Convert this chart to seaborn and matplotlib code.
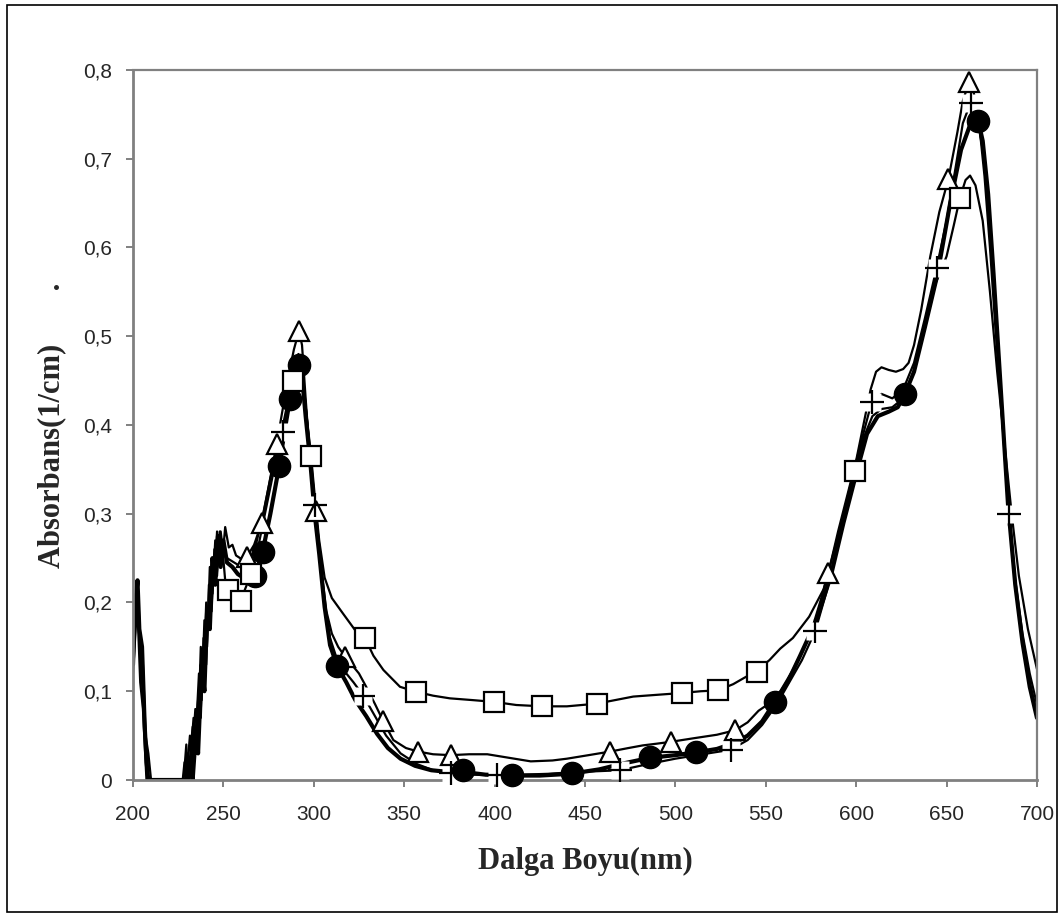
import matplotlib
matplotlib.use("Agg")
import matplotlib.pyplot as plt
from matplotlib.patches import Rectangle
import seaborn as sns

# ---- spectra (wavelength nm, absorbance 1/cm) ----
wl_circle = [200, 201, 202.5, 203.5, 205, 206.5, 208, 230, 232, 233,
             235, 236, 238, 239.5, 241, 242.5, 244, 245.5, 247, 248.5,
             250, 252, 255, 258, 261, 264, 267.5, 271.7, 276, 280.9,
             284, 286.8, 289.5, 291.8, 293.5, 295.5, 298, 300.5, 303, 306,
             309, 313, 318, 323, 329, 335, 341, 348, 356, 365,
             375, 383, 395, 410, 425, 442, 458, 472, 486, 500,
             511, 523, 533, 540, 548, 555, 562, 569, 578, 586,
             593, 600, 606, 612, 618, 623, 627, 632, 638, 645,
             652, 658, 663, 667.5, 670, 673, 676, 680, 684, 688,
             692, 696, 700]
ab_circle = [0.13, 0.19, 0.225, 0.17, 0.15, 0.06, 0.0, 0.0, 0.02, 0.0,
             0.06, 0.03, 0.13, 0.10, 0.19, 0.17, 0.25, 0.22, 0.275, 0.24,
             0.27, 0.245, 0.24, 0.232, 0.228, 0.226, 0.230, 0.257, 0.30, 0.354,
             0.395, 0.429, 0.455, 0.468, 0.455, 0.41, 0.36, 0.30, 0.255, 0.195,
             0.152, 0.128, 0.11, 0.09, 0.072, 0.052, 0.036, 0.024, 0.016, 0.011,
             0.009, 0.009, 0.006, 0.005, 0.005, 0.007, 0.012, 0.019, 0.025, 0.028,
             0.031, 0.035, 0.042, 0.05, 0.066, 0.088, 0.11, 0.14, 0.18, 0.23,
             0.29, 0.345, 0.39, 0.41, 0.415, 0.42, 0.435, 0.46, 0.51, 0.57,
             0.65, 0.71, 0.738, 0.743, 0.72, 0.66, 0.57, 0.44, 0.31, 0.22,
             0.155, 0.105, 0.07]

wl_tri = [200, 201.5, 203, 204.5, 206, 207.5, 209, 228, 229.5, 230.5,
          233, 234, 236, 237.5, 239, 240.5, 242, 243.5, 245, 246.5,
          248, 249.5, 251, 253, 255, 257, 260, 262.9, 267, 271.2,
          275, 279.5, 283, 286, 289, 291.8, 293.5, 295.5, 298, 301.2,
          304, 307, 310, 313.5, 317.3, 321, 325, 329, 334, 338.5,
          344, 351, 357.8, 366, 375.7, 386, 396, 408, 420, 432,
          440, 452, 463.8, 474, 482, 490, 497.4, 510, 523, 533,
          540, 546, 551, 558, 565, 571, 576, 580, 584.6, 590,
          595, 600, 604, 608, 611, 614, 618, 622, 626, 629,
          632, 636, 641, 646, 651, 656, 659, 662.4, 665, 668,
          671, 674, 677, 680, 684, 688, 692, 696, 700]
ab_tri = [0.17, 0.21, 0.19, 0.12, 0.09, 0.03, 0.0, 0.0, 0.04, 0.0,
          0.06, 0.03, 0.09, 0.07, 0.16, 0.13, 0.22, 0.19, 0.26, 0.23,
          0.28, 0.25, 0.285, 0.262, 0.265, 0.253, 0.249, 0.251, 0.265, 0.29,
          0.33, 0.379, 0.42, 0.455, 0.485, 0.506, 0.49, 0.43, 0.36, 0.303,
          0.24, 0.19, 0.165, 0.15, 0.139, 0.13, 0.12, 0.105, 0.085, 0.066,
          0.045, 0.036, 0.032, 0.029, 0.028, 0.029, 0.029, 0.025, 0.021, 0.022,
          0.024, 0.028, 0.032, 0.036, 0.039, 0.041, 0.043, 0.047, 0.051, 0.056,
          0.065, 0.078, 0.085, 0.10, 0.124, 0.148, 0.173, 0.20, 0.233, 0.28,
          0.32, 0.36, 0.40, 0.44, 0.46, 0.465, 0.462, 0.46, 0.463, 0.47,
          0.49, 0.53, 0.59, 0.64, 0.677, 0.73, 0.765, 0.786, 0.775, 0.74,
          0.68, 0.60, 0.51, 0.43, 0.31, 0.22, 0.16, 0.11, 0.075]

wl_sq = [200, 201, 202.5, 204, 205.5, 207, 208, 227.5, 228.5, 229.5,
         231.5, 232.5, 234.5, 236, 237.5, 239, 240.5, 242, 243.5, 245,
         246.5, 248, 249.5, 251, 252.7, 255, 259.6, 262, 265.3, 269,
         273, 277, 281, 285, 288.7, 291, 293, 295, 298.5, 301,
         303, 306, 310, 316, 322.8, 328.3, 333, 338.5, 347.7, 356.5,
         366, 375.3, 388, 399.8, 412, 426.4, 440, 456.5, 476.7, 490,
         503.5, 514, 523.6, 532, 538, 545, 552, 558, 565, 574,
         582, 588, 594, 599.3, 604, 609, 614, 620, 626, 632,
         638, 644, 650, 654, 657.4, 660.5, 663, 666, 670, 674,
         678, 682, 686, 690, 695, 700]
ab_sq = [0.15, 0.20, 0.19, 0.11, 0.08, 0.02, 0.0, 0.0, 0.02, 0.0,
         0.05, 0.02, 0.08, 0.05, 0.15, 0.11, 0.20, 0.17, 0.25, 0.22,
         0.28, 0.24, 0.26, 0.225, 0.214, 0.205, 0.202, 0.215, 0.232, 0.26,
         0.30, 0.34, 0.38, 0.42, 0.449, 0.47, 0.465, 0.43, 0.365, 0.31,
         0.27, 0.228, 0.205, 0.188, 0.169, 0.16, 0.14, 0.124, 0.105, 0.0995,
         0.095, 0.092, 0.09, 0.088, 0.0845, 0.083, 0.083, 0.086, 0.094, 0.096,
         0.098, 0.10, 0.101, 0.108, 0.115, 0.123, 0.135, 0.148, 0.16, 0.184,
         0.215, 0.26, 0.305, 0.348, 0.385, 0.41, 0.418, 0.42, 0.43, 0.46,
         0.51, 0.56, 0.59, 0.625, 0.656, 0.676, 0.681, 0.67, 0.63, 0.55,
         0.46, 0.38, 0.30, 0.23, 0.17, 0.125]

wl_plus = [200, 201.5, 203, 204, 205.5, 207, 208.5, 210, 229, 230,
           231, 233.5, 234.5, 236.5, 238, 239.5, 241, 242.5, 244, 245.5,
           247, 248.5, 250, 252, 256, 260, 264, 268, 272, 276,
           279.5, 283.1, 286, 289, 291.5, 293.5, 296, 298.5, 300.7, 303,
           306, 309, 313, 318, 322, 327.4, 333, 340, 348, 357,
           366, 375.7, 388, 401.1, 415, 430, 445, 458, 469.4, 485,
           500, 515, 530.5, 540, 548, 556, 563, 570, 577.4, 584,
           590, 596, 602, 608.6, 614, 620, 626, 632, 638, 644.5,
           650, 655, 659, 663.3, 667, 670, 673, 676, 680, 684.7,
           688, 692, 696, 700]
ab_plus = [0.12, 0.17, 0.21, 0.14, 0.13, 0.05, 0.03, 0.0, 0.0, 0.03,
           0.0, 0.07, 0.04, 0.12, 0.09, 0.18, 0.15, 0.24, 0.21, 0.27,
           0.25, 0.28, 0.255, 0.25, 0.245, 0.24, 0.245, 0.265, 0.30, 0.34,
           0.37, 0.392, 0.43, 0.465, 0.48, 0.465, 0.41, 0.355, 0.31, 0.26,
           0.20, 0.16, 0.135, 0.12, 0.11, 0.095, 0.075, 0.05, 0.03, 0.018,
           0.011, 0.0075, 0.006, 0.0056, 0.006, 0.007, 0.009, 0.01, 0.011, 0.018,
           0.024, 0.029, 0.034, 0.045, 0.062, 0.085, 0.11, 0.135, 0.168, 0.215,
           0.27, 0.325, 0.375, 0.426, 0.435, 0.43, 0.44, 0.47, 0.52, 0.577,
           0.63, 0.69, 0.74, 0.763, 0.745, 0.71, 0.65, 0.56, 0.43, 0.30,
           0.225, 0.165, 0.12, 0.085]

# ---- sparse marker points on each curve ----
mk_circle_wl = [267.5, 271.7, 280.9, 286.8, 291.8, 313.1, 382.7, 409.5, 442.6, 486, 511.2, 555.1, 627, 667.5]
mk_circle_ab = [0.230, 0.257, 0.354, 0.429, 0.468, 0.128, 0.011, 0.0056, 0.0083, 0.026, 0.031, 0.088, 0.435, 0.743]

mk_tri_wl = [262.9, 271.2, 279.5, 291.8, 301.2, 317.3, 338.5, 357.8, 375.7, 463.8, 497.4, 533, 584.6, 651, 662.4]
mk_tri_ab = [0.251, 0.290, 0.379, 0.506, 0.303, 0.139, 0.066, 0.032, 0.028, 0.032, 0.043, 0.056, 0.233, 0.677, 0.786]

mk_sq_wl = [252.7, 259.6, 265.3, 288.7, 298.5, 328.3, 356.5, 399.8, 426.4, 456.5, 503.5, 523.6, 545, 599.3, 657.4]
mk_sq_ab = [0.214, 0.202, 0.232, 0.449, 0.365, 0.160, 0.0995, 0.088, 0.083, 0.086, 0.098, 0.101, 0.122, 0.348, 0.656]

mk_plus_wl = [283.1, 300.7, 327.4, 375.7, 401.1, 469.4, 530.5, 577.4, 608.6, 644.5, 663.3, 684.7]
mk_plus_ab = [0.392, 0.31, 0.095, 0.0075, 0.0056, 0.011, 0.034, 0.168, 0.426, 0.577, 0.763, 0.30]

x_ticks = [200, 250, 300, 350, 400, 450, 500, 550, 600, 650, 700]
y_ticks = [0, 0.1, 0.2, 0.3, 0.4, 0.5, 0.6, 0.7, 0.8]
y_tick_labels = ["0", "0,1", "0,2", "0,3", "0,4", "0,5", "0,6", "0,7", "0,8"]

sns.set_style("white")
plt.rcParams["font.family"] = ["Liberation Sans", "DejaVu Sans"]

fig = plt.figure(figsize=(10.63, 9.17), dpi=100)
ax = fig.add_axes([0.1251, 0.1494, 0.8504, 0.7743])

# lines
sns.lineplot(x=wl_circle, y=ab_circle, sort=False, estimator=None, color="black", lw=3.0, ax=ax, zorder=2)
sns.lineplot(x=wl_tri, y=ab_tri, sort=False, estimator=None, color="black", lw=1.6, ax=ax, zorder=2)
sns.lineplot(x=wl_sq, y=ab_sq, sort=False, estimator=None, color="black", lw=1.6, ax=ax, zorder=2)
sns.lineplot(x=wl_plus, y=ab_plus, sort=False, estimator=None, color="black", lw=1.6, ax=ax, zorder=2)

# markers (plus markers get a white backing like the excel original)
ax.plot(mk_plus_wl, mk_plus_ab, ls="none", marker="s", ms=13, mfc="white", mec="none", zorder=3, clip_on=False)
ax.plot(mk_tri_wl, mk_tri_ab, ls="none", marker="^", ms=15, mfc="white", mec="black", mew=1.6, zorder=4, clip_on=False)
ax.plot(mk_circle_wl, mk_circle_ab, ls="none", marker="o", ms=16, mfc="black", mec="black", zorder=5, clip_on=False)
ax.plot(mk_sq_wl, mk_sq_ab, ls="none", marker="s", ms=15, mfc="white", mec="black", mew=1.6, zorder=6, clip_on=False)
ax.plot(mk_plus_wl, mk_plus_ab, ls="none", marker="+", ms=17, mec="black", mew=1.6, zorder=7, clip_on=False)

ax.set_xlim(200, 700)
ax.set_ylim(0, 0.8)
ax.set_xticks(x_ticks)
ax.set_yticks(y_ticks)
ax.set_yticklabels(y_tick_labels)

for side in ["left", "bottom", "top", "right"]:
    ax.spines[side].set_visible(True)
    ax.spines[side].set_color("#808080")
    ax.spines[side].set_linewidth(1.6)
ax.spines["left"].set_linewidth(2.0)
ax.spines["bottom"].set_linewidth(2.0)

ax.tick_params(axis="both", which="major", direction="out", length=5, width=1.4,
               color="#808080", labelsize=15, bottom=True, left=True, top=False, right=False)
ax.tick_params(axis="x", pad=13)
ax.tick_params(axis="y", pad=10)

ax.set_xlabel("Dalga Boyu(nm)", fontsize=22, fontweight="bold", family="Liberation Serif", va="center")
ax.xaxis.set_label_coords(0.5, -0.115)
ax.set_ylabel("Absorbans(1/cm)       .", fontsize=22, fontweight="bold", family="Liberation Serif", va="center")
ax.yaxis.set_label_coords(-0.09, 0.5)

# outer chart frame
fig.patches.append(Rectangle((0.0066, 0.0055), 0.9878, 0.989, transform=fig.transFigure,
                             fill=False, ec="black", lw=1.2))

fig.savefig("out.png", dpi=100)
